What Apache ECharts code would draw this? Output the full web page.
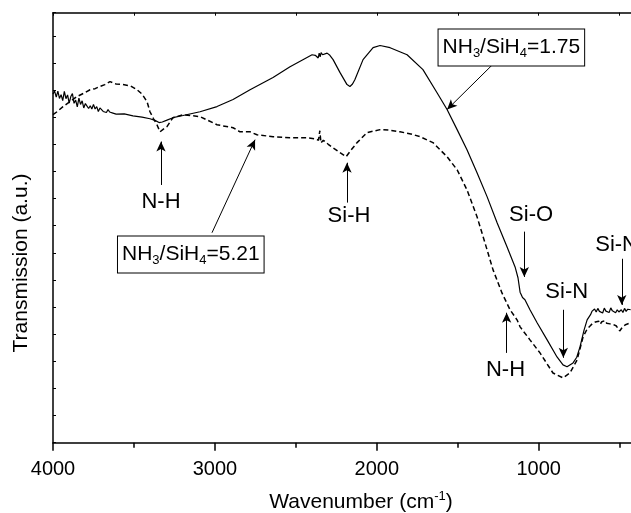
<!DOCTYPE html>
<html>
<head>
<meta charset="utf-8">
<script src="https://cdn.jsdelivr.net/npm/echarts@6/dist/echarts.min.js"></script>
<style>html,body{margin:0;padding:0;background:#fff;}#c{width:631px;height:513px;}</style>
</head>
<body>
<div id="c"></div>
<script>
// ---- data ----
const solidWavenumber = [4000,3990,3980,3970,3960,3950,3940,3930,3920,3910,3900,3890,3880,3870,3860,3850,3840,3830,3820,3810,3800,3790,3780,3770,3760,3750,3740,3730,3720,3710,3700,3690,3680,3670,3660,3650,3640,3630,3620,3610,3600,3560,3506,3450,3401,3370,3345,3325,3300,3259,3197,3092,2987,2888,2783,2641,2536,2431,2400,2380,2369,2362,2356,2350,2344,2335,2325,2307,2290,2270,2227,2184,2166,2150,2135,2085,2023,1980,1918,1813,1715,1628,1566,1504,1443,1381,1319,1257,1196,1146,1128,1115,1100,1085,1054,1010,948,887,850,825,788,765,745,720,701,680,670,664,655,645,635,625,615,605,595,585,575,565,555,545,535,525,515,505,497,490,480,470,460,450,440,432];
const solidTransmission = [12.85,12.96,12.74,12.96,12.69,12.83,12.61,12.95,12.68,12.82,12.52,12.76,12.87,12.51,12.63,12.38,12.70,12.47,12.60,12.34,12.50,12.55,12.32,12.42,12.30,12.47,12.30,12.39,12.21,12.34,12.36,12.21,12.28,12.17,12.28,12.19,12.26,12.15,12.20,12.11,12.18,12.12,12.05,12.00,11.94,11.88,11.80,11.82,11.88,11.98,12.06,12.20,12.39,12.65,13.01,13.46,13.86,14.20,14.30,14.28,14.33,14.18,14.36,14.22,14.38,14.30,14.35,14.36,14.28,14.12,13.64,13.20,13.13,13.22,13.39,14.12,14.56,14.64,14.56,14.30,13.75,12.90,12.28,11.54,10.80,9.95,9.07,8.11,7.22,6.48,6.08,5.55,5.35,5.27,4.90,4.42,3.79,3.16,2.87,2.80,2.94,3.15,3.53,4.15,4.53,4.72,4.85,4.80,4.93,4.82,4.95,4.84,4.90,4.78,4.96,4.85,4.92,4.80,4.97,4.86,4.93,4.79,4.90,4.82,4.76,4.90,4.80,4.95,4.84,4.92,4.85,4.90];
const dashedWavenumber = [4000,3975,3938,3900,3852,3810,3771,3740,3710,3680,3648,3610,3568,3520,3481,3450,3419,3401,3380,3358,3339,3320,3296,3259,3197,3092,2987,2888,2845,2783,2740,2641,2536,2431,2380,2360,2352,2345,2330,2300,2270,2230,2190,2160,2122,2060,1980,1920,1857,1790,1733,1653,1566,1504,1443,1381,1332,1282,1227,1177,1134,1115,1054,992,912,850,807,763,726,700,683,670,660,650,640,630,620,610,600,590,580,570,560,550,540,530,520,510,500,495,488,480,470,460,450,440,432];
const dashedTransmission = [12.09,12.20,12.39,12.55,12.76,12.88,13.01,13.05,13.13,13.20,13.31,13.22,13.20,13.15,13.01,12.85,12.57,12.20,11.95,11.72,11.46,11.55,11.65,11.98,12.09,12.02,11.72,11.61,11.46,11.46,11.35,11.28,11.24,11.24,11.20,11.15,11.50,11.05,11.15,11.00,10.87,10.70,10.54,10.78,11.06,11.43,11.54,11.52,11.46,11.38,11.28,11.06,10.54,10.06,9.32,8.33,7.37,6.37,5.52,4.90,4.53,4.27,3.79,3.31,2.57,2.39,2.57,3.05,3.90,4.20,4.30,4.38,4.33,4.45,4.40,4.48,4.37,4.46,4.42,4.50,4.40,4.46,4.38,4.44,4.36,4.40,4.30,4.25,4.12,4.18,4.08,4.28,4.22,4.36,4.30,4.40,4.34];
const xMajorTicks = [1000,2000,3000,4000];
const xMinorTicks = [500,1500,2500,3500];
const xTopTicks = [500,1000,1500,2000,2500,3000,3500,4000];

// annotations: [wavenumber, transmission] in data units
const arrows = [
  [[3333, 9.50], [3333, 11.10]],   // N-H left
  [[3018, 7.74], [2752, 11.17]],   // box 5.21
  [[2184, 8.85], [2184, 10.32]],   // Si-H
  [[1089, 7.78], [1089, 6.11]],    // Si-O
  [[848, 4.90], [848, 3.13]],      // Si-N mid
  [[487, 6.78], [487, 5.08]],      // Si-N right
  [[1198, 3.31], [1198, 4.79]],    // N-H right
  [[1264, 14.06], [1566, 12.28]]   // box 1.75
];
const labels = [
  {text: 'N-H', at: [3333, 8.87]},
  {text: 'Si-H', at: [2172, 8.37]},
  {text: 'Si-O', at: [1047, 8.40]},
  {text: 'Si-N', at: [827, 5.56]},
  {text: 'Si-N', at: [519, 7.30]},
  {text: 'N-H', at: [1205, 2.68]}
];
const boxes = [
  {ratio: '5.21', at: [3149, 6.94]},
  {ratio: '1.75', at: [1169, 14.57]}
];

const FONT = 'Liberation Sans';
const zip = (a, b) => a.map((v, i) => [v, b[i]]);

const chart = echarts.init(document.getElementById('c'), null, {renderer: 'canvas'});
const gridBox = {left: 53, right: 0, top: 12.7, bottom: 70.3, containLabel: false};
const xBase = {type: 'value', min: 430, max: 4000, inverse: true, splitLine: {show: false}};

const markPointData = labels.map(l => ({
  coord: l.at,
  label: {formatter: l.text}
})).concat(boxes.map(b => ({
  coord: b.at,
  label: {
    formatter: '{a|NH}{s|3}{a|/SiH}{s|4}{a|=' + b.ratio + '}',
    backgroundColor: '#fff', borderColor: '#000', borderWidth: 1,
    padding: [4, 4, 4, 4],
    rich: {
      a: {fontSize: 21, fontFamily: FONT, color: '#000', lineHeight: 28},
      s: {fontSize: 13, fontFamily: FONT, color: '#000', lineHeight: 28, padding: [12, 0, 0, 0]}
    }
  }
})));

chart.setOption({
  animation: false,
  backgroundColor: '#fff',
  grid: [Object.assign({}, gridBox), Object.assign({}, gridBox)],
  xAxis: [
    Object.assign({}, xBase, {
      gridIndex: 0, position: 'bottom',
      axisLine: {show: true, lineStyle: {color: '#000', width: 1.5}},
      axisTick: {show: true, inside: false, length: 8, customValues: xMajorTicks, lineStyle: {color: '#000', width: 1.5}},
      axisLabel: {show: true, customValues: xMajorTicks, formatter: v => String(v), color: '#000', fontSize: 20, fontFamily: FONT, margin: 17}
    }),
    Object.assign({}, xBase, {
      gridIndex: 0, position: 'top',
      axisLine: {show: true, lineStyle: {color: '#000', width: 1.5}},
      axisTick: {show: true, inside: true, length: 3, customValues: xTopTicks, lineStyle: {color: '#000', width: 1}},
      axisLabel: {show: false, customValues: xTopTicks}
    }),
    Object.assign({}, xBase, {
      gridIndex: 1, position: 'bottom',
      axisLine: {show: false},
      axisTick: {show: true, inside: false, length: 5, customValues: xMinorTicks, lineStyle: {color: '#000', width: 1.5}},
      axisLabel: {show: true, customValues: xMinorTicks, formatter: () => ''}
    })
  ],
  yAxis: [
    {
      gridIndex: 0, type: 'value', min: 0, max: 15.85, interval: 1,
      axisLine: {show: true, lineStyle: {color: '#000', width: 1.5}},
      axisTick: {show: true, inside: true, length: 3, lineStyle: {color: '#000', width: 1}},
      axisLabel: {show: false},
      splitLine: {show: false}
    },
    {
      gridIndex: 1, type: 'value', min: 0, max: 15.85, show: false
    }
  ],
  graphic: [
    {type: 'text', x: 21.7, y: 263, rotation: Math.PI / 2,
     style: {text: 'Transmission (a.u.)', fontSize: 21, fontFamily: FONT, fill: '#000', textAlign: 'center', textVerticalAlign: 'middle'}},
    {type: 'text', x: 361, y: 502,
     style: {text: '{a|Wavenumber (cm}{u|-1}{a|)}', fontFamily: FONT, fill: '#000', textAlign: 'center', textVerticalAlign: 'middle',
       rich: {a: {fontSize: 21, fontFamily: FONT, fill: '#000', lineHeight: 26}, u: {fontSize: 13, fontFamily: FONT, fill: '#000', lineHeight: 26, padding: [0, 0, 12, 0]}}}}
  ],
  series: [
    {
      name: 'NH3/SiH4=1.75', type: 'line', xAxisIndex: 0, yAxisIndex: 0, data: zip(solidWavenumber, solidTransmission),
      showSymbol: false, symbol: 'none', smooth: false,
      lineStyle: {color: '#000', width: 1.2}, z: 3,
      markLine: {
        silent: true, symbol: ['none', 'arrow'], symbolSize: [7, 10],
        label: {show: false},
        lineStyle: {color: '#000', width: 1, type: 'solid'},
        data: arrows.map(a => [{coord: a[0]}, {coord: a[1]}])
      },
      markPoint: {
        silent: true, symbol: 'rect', symbolSize: 1,
        itemStyle: {color: 'rgba(0,0,0,0)'},
        label: {show: true, position: 'inside', color: '#000', fontSize: 22, fontFamily: FONT},
        data: markPointData
      }
    },
    {
      name: 'NH3/SiH4=5.21', type: 'line', xAxisIndex: 0, yAxisIndex: 0, data: zip(dashedWavenumber, dashedTransmission),
      showSymbol: false, symbol: 'none', smooth: false,
      lineStyle: {color: '#000', width: 1.5, type: [5, 3]}, z: 3
    }
  ]
});
</script>
</body>
</html>
